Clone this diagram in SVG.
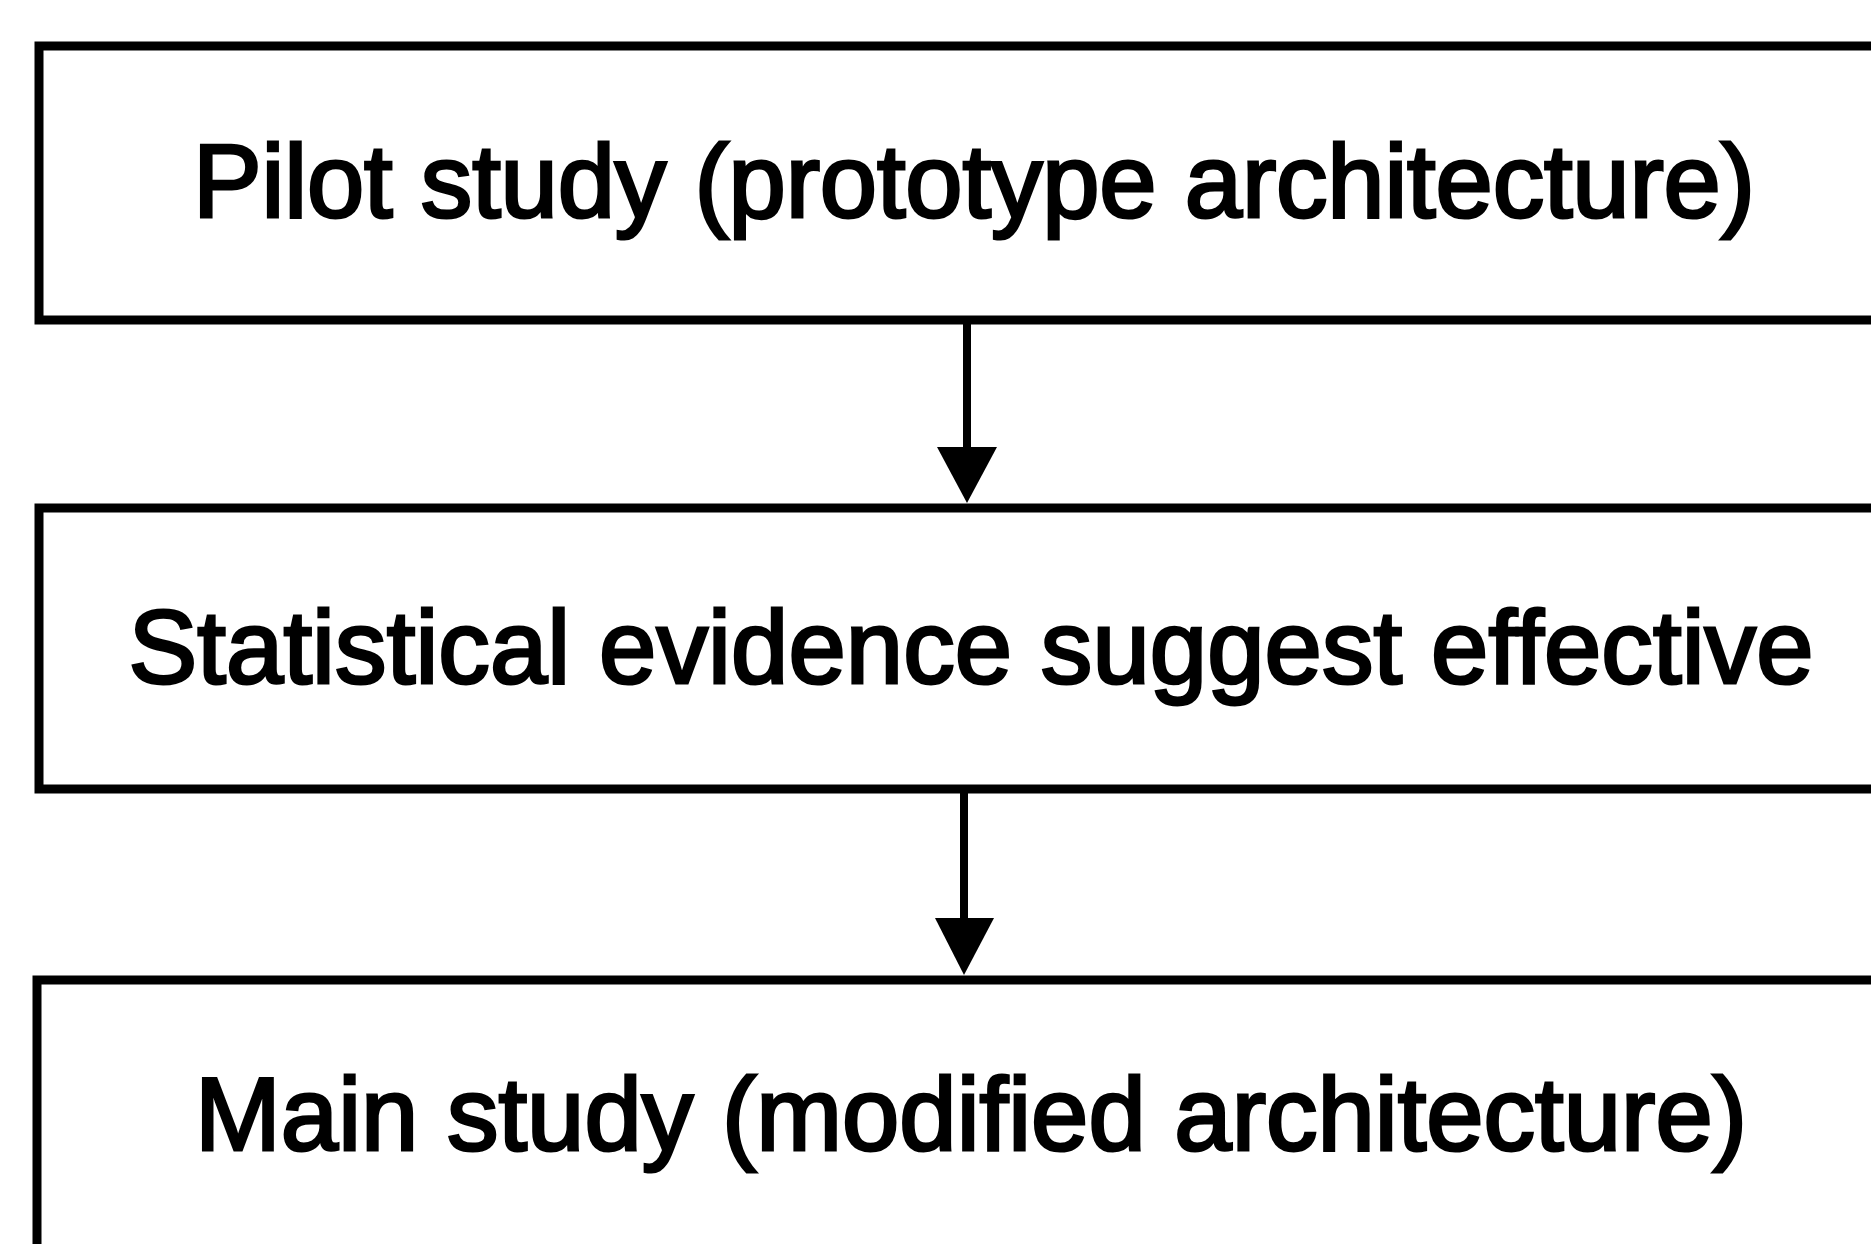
<svg xmlns="http://www.w3.org/2000/svg" width="1871" height="1244" viewBox="0 0 1871 1244">
  <style>
    .box { fill: #fff; stroke: #000; stroke-width: 9; }
    .label { font-family: "Liberation Sans", Arial, Helvetica, sans-serif; font-size: 103px; fill: #000; stroke: #000; stroke-width: 3; text-anchor: middle; }
    .edge { stroke: #000; stroke-width: 8; fill: none; }
    .head { fill: #000; }
  </style>
  <rect width="1871" height="1244" fill="#fff"/>

  <g id="node-pilot">
    <rect class="box" x="39" y="46" width="1860" height="274"/>
    <text class="label" x="974" y="217" textLength="1562" lengthAdjust="spacing">Pilot study (prototype architecture)</text>
  </g>

  <g id="node-evidence">
    <rect class="box" x="39" y="508" width="1860" height="281"/>
    <text class="label" x="971" y="683" textLength="1685" lengthAdjust="spacing">Statistical evidence suggest effective</text>
  </g>

  <g id="node-main">
    <rect class="box" x="37" y="980" width="1860" height="300"/>
    <text class="label" x="971" y="1150" textLength="1552" lengthAdjust="spacing">Main study (modified architecture)</text>
  </g>

  <g id="connectors">
    <line class="edge" x1="967" y1="320" x2="967" y2="450"/>
    <polygon class="head" points="937,447 997,447 967,503"/>
    <line class="edge" x1="964" y1="789" x2="964" y2="920"/>
    <polygon class="head" points="935,918 994,918 964,975"/>
  </g>
</svg>
